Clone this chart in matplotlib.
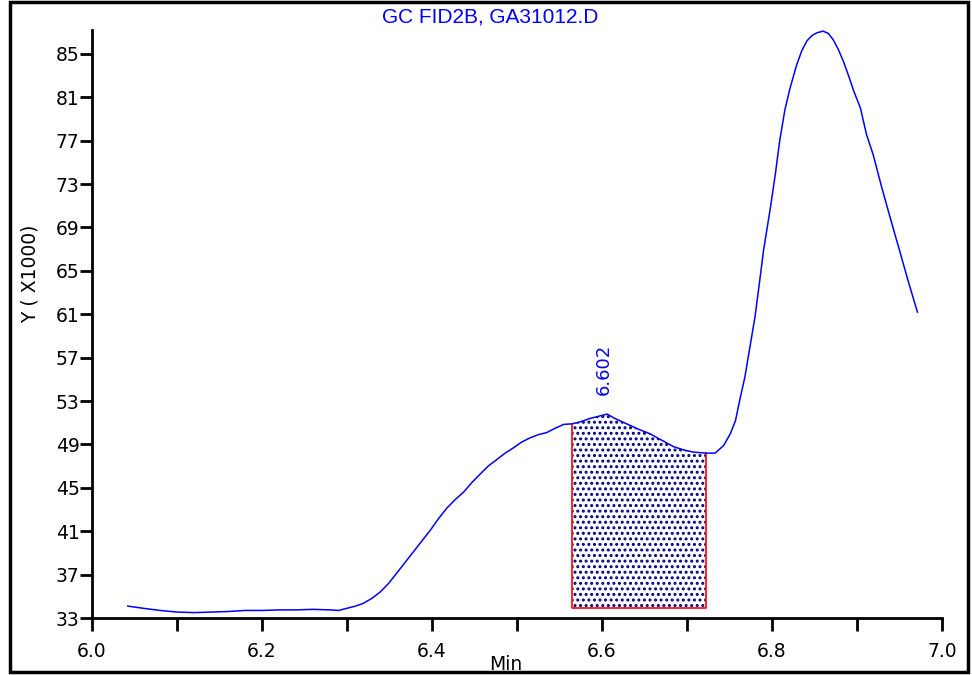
import numpy as np
import matplotlib
matplotlib.use("Agg")
import matplotlib.pyplot as plt
from matplotlib.patches import Rectangle

# chromatogram trace (minutes, counts x1000)
time_min = [6.042, 6.06, 6.08, 6.10, 6.12, 6.14, 6.16, 6.18, 6.20, 6.22,
            6.24, 6.26, 6.28, 6.29, 6.30, 6.31, 6.319, 6.329, 6.339, 6.349,
            6.358, 6.368, 6.378, 6.388, 6.398, 6.407, 6.417, 6.427, 6.437, 6.447,
            6.457, 6.466, 6.476, 6.486, 6.496, 6.505, 6.515, 6.525, 6.535, 6.545,
            6.555, 6.565, 6.575, 6.586, 6.596, 6.606, 6.615, 6.629, 6.643, 6.656,
            6.670, 6.684, 6.696, 6.707, 6.722, 6.733, 6.743, 6.751, 6.757, 6.762,
            6.768, 6.774, 6.780, 6.785, 6.790, 6.798, 6.804, 6.809, 6.815, 6.821,
            6.829, 6.835, 6.841, 6.847, 6.853, 6.860, 6.866, 6.872, 6.878, 6.884,
            6.890, 6.896, 6.904, 6.911, 6.919, 6.929, 6.939, 6.951, 6.960, 6.971]
signal = [34.1, 33.9, 33.7, 33.55, 33.5, 33.55, 33.6, 33.7, 33.7, 33.75,
          33.75, 33.8, 33.75, 33.7, 33.9, 34.1, 34.35, 34.8, 35.4, 36.2,
          37.1, 38.1, 39.1, 40.1, 41.1, 42.1, 43.1, 43.9, 44.6, 45.5,
          46.3, 47.0, 47.6, 48.2, 48.7, 49.2, 49.6, 49.9, 50.1, 50.5,
          50.85, 50.9, 51.1, 51.4, 51.6, 51.8, 51.4, 50.9, 50.4, 50.0,
          49.4, 48.8, 48.5, 48.3, 48.2, 48.2, 48.9, 50.0, 51.2, 53.1,
          55.2, 58.0, 60.8, 63.8, 66.9, 70.8, 74.0, 77.0, 79.8, 81.8,
          84.0, 85.3, 86.2, 86.7, 86.95, 87.1, 86.9, 86.3, 85.4, 84.3,
          83.0, 81.6, 80.0, 77.6, 75.7, 72.7, 69.9, 66.6, 64.1, 61.2]

# integrated peak
peak_rt = 6.602
peak_label = "6.602"
peak_start = 6.565
peak_end = 6.722
peak_base = 33.9

title = "GC FID2B, GA31012.D"
y_ticks = list(range(33, 86, 4))
x_major = [6.0, 6.2, 6.4, 6.6, 6.8, 7.0]
x_minor = [6.1, 6.3, 6.5, 6.7, 6.9]

t = np.array(time_min)
s = np.array(signal)

plt.rcParams["hatch.linewidth"] = 1.4

fig = plt.figure(figsize=(9.72, 6.75), dpi=100)
ax = fig.add_axes([0.0947, 0.0844, 0.8745, 0.8711])

ax.plot(t, s, color="#0000ff", lw=1.1, zorder=3)

mask = (t >= peak_start) & (t <= peak_end)
ax.fill_between(t[mask], peak_base, s[mask], facecolor="white",
                edgecolor="#000080", hatch="...", linewidth=0, zorder=2)
ax.plot([peak_start, peak_start, peak_end, peak_end],
        [s[mask][0], peak_base, peak_base, s[mask][-1]],
        color="red", lw=1.2, zorder=2.5)

peak_y = s[np.argmin(np.abs(t - peak_rt))]
ax.annotate(peak_label, (peak_rt, peak_y), xytext=(0, 14),
            textcoords="offset points", rotation=90, ha="center", va="bottom",
            color="#0000ff", fontsize=13)

ax.set_xlim(6.0, 7.0)
ax.set_ylim(33, 87.2)
ax.set_xticks(x_major)
ax.set_xticks(x_minor, minor=True)
ax.set_xticklabels([f"{v:.1f}" for v in x_major])
ax.set_yticks(y_ticks)

for side in ["top", "right"]:
    ax.spines[side].set_visible(False)
for side in ["left", "bottom"]:
    ax.spines[side].set_linewidth(2)

ax.tick_params(axis="both", which="both", direction="out", width=2,
               length=9, labelsize=13.5)
ax.tick_params(axis="y", pad=0)
ax.tick_params(axis="x", pad=8)

fig.text(0.504, 0.975, title, ha="center", va="center", color="#0000ff",
         fontsize=15, family="Liberation Sans")
fig.text(0.031, 0.594, "Y ( X1000)", rotation=90, ha="center", va="center",
         fontsize=13.5)
fig.text(0.52, 0.001, "Min", ha="center", va="bottom", fontsize=13.5)

fig.add_artist(Rectangle((10 / 972, 3 / 675), 958 / 972, 670 / 675,
                         transform=fig.transFigure, fill=False,
                         edgecolor="black", lw=2.5, zorder=10))

fig.savefig("out.png", dpi=100)
